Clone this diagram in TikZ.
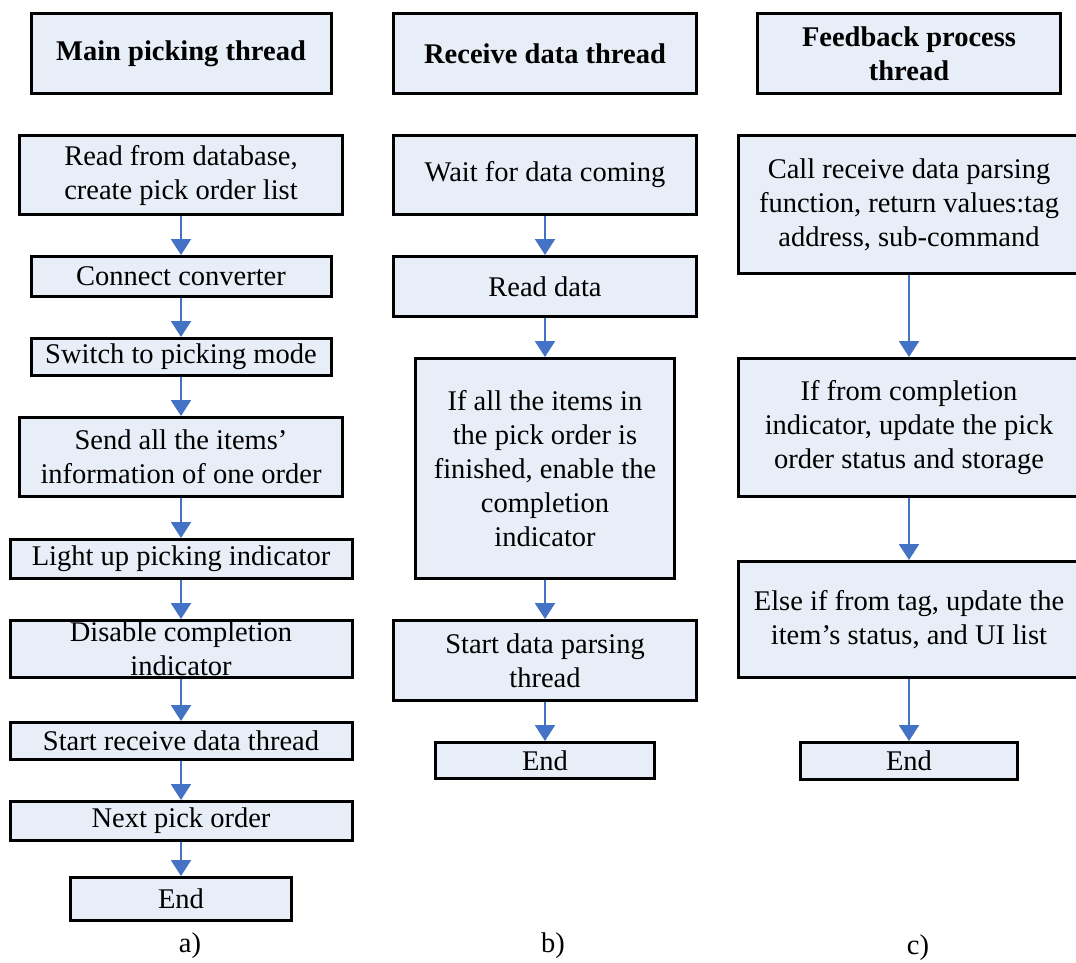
\documentclass[tikz,border=0pt]{standalone}
\usepackage{fontspec}
\setmainfont{Liberation Serif}
\usetikzlibrary{arrows.meta}
\definecolor{boxfill}{RGB}{231,238,247}
\definecolor{arrowblue}{RGB}{68,114,196}
\begin{document}
\begin{tikzpicture}[x=1pt,y=-1pt,
  box/.style={draw=black, line width=3pt, fill=boxfill, rectangle, inner sep=0pt, align=center, font=\fontsize{28.5}{34}\selectfont},
  head/.style={box, font=\fontsize{28.5}{34}\selectfont\bfseries},
  flow/.style={draw=arrowblue, line width=2.2pt, -{Triangle[width=20pt,length=16pt]}},
  caption/.style={font=\fontsize{28.5}{34}\selectfont}]
\useasboundingbox[fill=white] (0,0) rectangle (1076,962);
% column a
\node[head, minimum width=300pt, minimum height=80pt] (ha) at (181,53.5) {Main picking thread};
\node[box, minimum width=323pt, minimum height=79pt] (a1) at (181,175) {Read from database,\\create pick order list};
\node[box, minimum width=300pt, minimum height=40pt] (a2) at (181,276.5) {Connect converter};
\node[box, minimum width=300pt, minimum height=37pt] (a3) at (181,357) {Switch to picking mode};
\node[box, minimum width=323pt, minimum height=79pt] (a4) at (181,457) {Send all the items'\\information of one order};
\node[box, minimum width=342pt, minimum height=39pt] (a5) at (181,559) {Light up picking indicator};
\node[box, minimum width=342pt, minimum height=57pt] (a6) at (181,649) {Disable completion\\indicator};
\node[box, minimum width=342pt, minimum height=37pt] (a7) at (181,741) {Start receive data thread};
\node[box, minimum width=342pt, minimum height=39pt] (a8) at (181,821) {Next pick order};
\node[box, minimum width=221pt, minimum height=43pt] (a9) at (181,899) {End};
\node[caption] (la) at (190,946) {a)};
\foreach \s/\t in {a1/a2,a2/a3,a3/a4,a4/a5,a5/a6,a6/a7,a7/a8,a8/a9}
  \draw[flow] (\s.south) -- (\t.north);
% column b
\node[head, minimum width=303pt, minimum height=80pt] (hb) at (545,53.5) {Receive data thread};
\node[box, minimum width=303pt, minimum height=79pt] (b1) at (545,175) {Wait for data coming};
\node[box, minimum width=303pt, minimum height=60pt] (b2) at (545,286.5) {Read data};
\node[box, minimum width=259pt, minimum height=220pt] (b3) at (545,468.5) {If all the items in\\the pick order is\\finished, enable the\\completion\\indicator};
\node[box, minimum width=303pt, minimum height=80pt] (b4) at (545,660.5) {Start data parsing\\thread};
\node[box, minimum width=219pt, minimum height=36pt] (b5) at (545,760.5) {End};
\node[caption] (lb) at (553,946) {b)};
\foreach \s/\t in {b1/b2,b2/b3,b3/b4,b4/b5}
  \draw[flow] (\s.south) -- (\t.north);
% column c
\node[head, minimum width=303pt, minimum height=80pt] (hc) at (909,53.5) {Feedback process\\thread};
\node[box, minimum width=341pt, minimum height=138pt] (c1) at (909,204.5) {Call receive data parsing\\function, return values:tag\\address, sub-command};
\node[box, minimum width=341pt, minimum height=138pt] (c2) at (909,427.5) {If from completion\\indicator, update the pick\\order status and storage};
\node[box, minimum width=341pt, minimum height=116pt] (c3) at (909,619.5) {Else if from tag, update the\\item's status, and UI list};
\node[box, minimum width=217pt, minimum height=37pt] (c4) at (909,761) {End};
\node[caption] (lc) at (918,948) {c)};
\foreach \s/\t in {c1/c2,c2/c3,c3/c4}
  \draw[flow] (\s.south) -- (\t.north);
\end{tikzpicture}
\end{document}
